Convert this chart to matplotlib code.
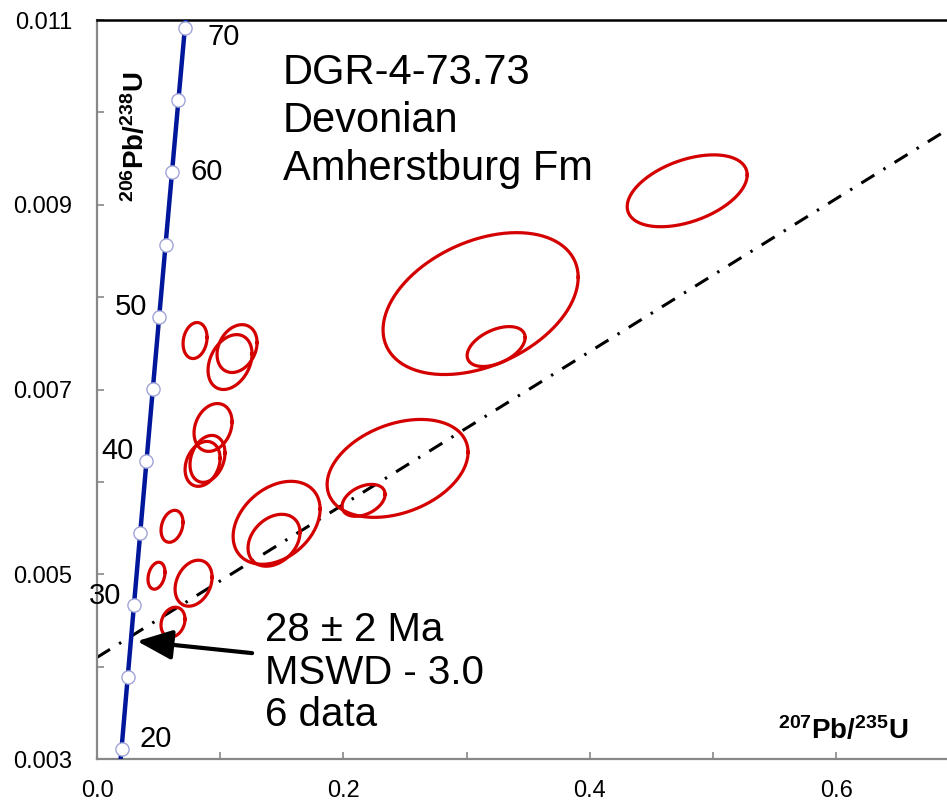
import numpy as np
import matplotlib
matplotlib.use("Agg")
import matplotlib.pyplot as plt
from matplotlib.ticker import MultipleLocator, FormatStrFormatter

plt.rcParams['font.family'] = ['Liberation Sans', 'DejaVu Sans']
plt.rcParams['mathtext.fontset'] = 'custom'
plt.rcParams['mathtext.rm'] = 'Liberation Sans'
plt.rcParams['mathtext.bf'] = 'Liberation Sans:bold'

# concordia ticks (Ma) and their 207Pb/235U, 206Pb/238U ratios
ages = [20, 25, 30, 35, 40, 45, 50, 55, 60, 65, 70]
conc_x = [0.019892, 0.024927, 0.029986, 0.035071, 0.040180, 0.045315,
          0.050475, 0.055661, 0.060872, 0.066109, 0.071371]
conc_y = [0.0031073, 0.0038857, 0.0046646, 0.0054441, 0.0062243, 0.0070050,
          0.0077864, 0.0085684, 0.0093510, 0.0101341, 0.0109179]
# curve runs a bit past the ticks (15 and 75 Ma) so it reaches the frame
curve_x = [0.014882] + conc_x + [0.076660]
curve_y = [0.0023298] + conc_y + [0.0117020]
labeled = [20, 30, 40, 50, 60, 70]

# analyses: x, sx, y, sy, rho
ell_x = [0.4791, 0.3114, 0.3240, 0.2440, 0.2164, 0.1458, 0.1437, 0.0609, 0.0483,
         0.0784, 0.0617, 0.0796, 0.1137, 0.1080, 0.0942, 0.0857, 0.0897]
ell_sx = [0.0487, 0.0792, 0.02355, 0.0572, 0.01746, 0.0353, 0.0211, 0.00893, 0.0069,
          0.01502, 0.00974, 0.00974, 0.01624, 0.01786, 0.01543, 0.01421, 0.01421]
ell_y = [0.009151, 0.007930, 0.007465, 0.006146, 0.005800, 0.005557, 0.005368, 0.005519, 0.004984,
         0.004903, 0.004481, 0.007530, 0.007443, 0.007297, 0.006589, 0.006195, 0.006249]
ell_sy = [0.000389, 0.000768, 0.000216, 0.000530, 0.000173, 0.000449, 0.000281, 0.000173, 0.000146,
          0.000249, 0.000162, 0.000195, 0.000259, 0.000297, 0.000259, 0.000243, 0.000254]
ell_rho = [0.44, 0.37, 0.45, 0.33, 0.375, 0.33, 0.30, 0.25, 0.26,
           0.26, 0.20, 0.17, 0.25, 0.30, 0.23, 0.25, 0.25]

# discordia (lower intercept ~28 Ma)
disc_x = [0.0, 0.69]
disc_y = [0.0041, 0.00981]

xticks = [0.0, 0.2, 0.4, 0.6]
yticks = [0.003, 0.005, 0.007, 0.009, 0.011]

title_lines = ["DGR-4-73.73", "Devonian", "Amherstburg Fm"]
result_lines = ["28 \u00b1 2 Ma", "MSWD - 3.0", "6 data"]

fig = plt.figure(figsize=(9.47, 8.02), dpi=100)
ax = fig.add_axes([97 / 947, 43 / 802, 850 / 947, 739 / 802])
ax.set_xlim(0, 0.69)
ax.set_ylim(0.003, 0.011)

# error ellipses
t = np.linspace(0, 2 * np.pi, 200)
for cx, sx, cy, sy, r in zip(ell_x, ell_sx, ell_y, ell_sy, ell_rho):
    ex = cx + sx * np.cos(t)
    ey = cy + sy * (r * np.cos(t) + np.sqrt(1 - r ** 2) * np.sin(t))
    ax.plot(ex, ey, color='#d40000', lw=2.3, zorder=3)

ax.plot(disc_x, disc_y, color='black', lw=2.2, ls=(0, (5, 3.5, 0.8, 3.5)), zorder=2)

ax.plot(curve_x, curve_y, color='#00179c', lw=3.2, zorder=4)
ax.plot(conc_x, conc_y, 'o', ms=9.5, mfc='white', mec='#a0a4d8', mew=1.0, zorder=5)

offsets = {20: (13, 7, 'left'), 30: (-9, 7, 'right'), 40: (-9, 7, 'right'),
           50: (-9, 7, 'right'), 60: (13, 0, 'left'), 70: (16, -7, 'left')}
for a, x, y in zip(ages, conc_x, conc_y):
    if a in labeled:
        dx, dy, ha = offsets[a]
        ax.annotate(str(a), (x, y), xytext=(dx, dy), textcoords='offset points',
                    ha=ha, va='center', fontsize=21, zorder=6)

for i, s in enumerate(title_lines):
    ax.text(0.151, 0.010308 - i * 0.000519, s, fontsize=30, va='baseline', ha='left')

for i, s in enumerate(result_lines):
    ax.text(0.1364, 0.004276 - i * 0.000459, s, fontsize=29, va='baseline', ha='left')

ax.annotate('', xy=(0.0325, 0.004276), xytext=(0.1259, 0.004146),
            arrowprops=dict(arrowstyle='-|>,head_length=0.9,head_width=0.38',
                            mutation_scale=24, lw=3, color='black',
                            shrinkA=0, shrinkB=0), zorder=6)

ax.text(0.6585, 0.003216, r'$\mathbf{{}^{207}Pb/{}^{235}U}$', fontsize=20,
        ha='right', va='baseline')
ax.text(0.0317, 0.010438, r'$\mathbf{{}^{206}Pb/{}^{238}U}$', fontsize=20,
        rotation=90, ha='center', va='top')

ax.set_xticks(xticks)
ax.set_yticks(yticks)
ax.xaxis.set_minor_locator(MultipleLocator(0.1))
ax.yaxis.set_minor_locator(MultipleLocator(0.001))
ax.xaxis.set_major_formatter(FormatStrFormatter('%.1f'))
ax.yaxis.set_major_formatter(FormatStrFormatter('%.3f'))
ax.tick_params(which='both', direction='in', length=5, width=1.2, color='#888888',
               labelsize=17)
ax.tick_params(axis='x', pad=15)
ax.tick_params(axis='y', pad=18)

for side in ['left', 'bottom']:
    ax.spines[side].set_color('#888888')
    ax.spines[side].set_linewidth(1.6)
ax.spines['top'].set_color('black')
ax.spines['top'].set_linewidth(1.8)
ax.spines['right'].set_visible(False)

fig.savefig('out.png', dpi=100)
